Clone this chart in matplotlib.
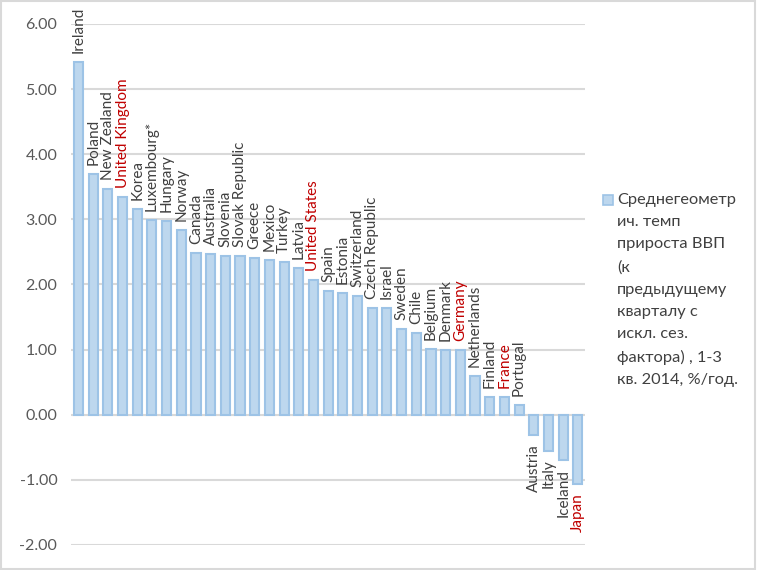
import matplotlib
matplotlib.use("Agg")
import matplotlib.pyplot as plt
from matplotlib.patches import Rectangle

countries = ["Ireland", "Poland", "New Zealand", "United Kingdom", "Korea", "Luxembourg*",
             "Hungary", "Norway", "Canada", "Australia", "Slovenia", "Slovak Republic",
             "Greece", "Mexico", "Turkey", "Latvia", "United States", "Spain", "Estonia",
             "Switzerland", "Czech Republic", "Israel", "Sweden", "Chile", "Belgium",
             "Denmark", "Germany", "Netherlands", "Finland", "France", "Portugal",
             "Austria", "Italy", "Iceland", "Japan"]
values = [5.41, 3.70, 3.47, 3.34, 3.16, 2.99, 2.97, 2.83, 2.49, 2.47, 2.44, 2.43,
          2.41, 2.37, 2.34, 2.26, 2.07, 1.90, 1.87, 1.83, 1.64, 1.64, 1.32, 1.26, 1.01,
          1.00, 0.99, 0.59, 0.27, 0.27, 0.15, -0.31, -0.55, -0.69, -1.07]
highlight = ["United Kingdom", "United States", "Germany", "France", "Japan"]
yticks = [-2, -1, 0, 1, 2, 3, 4, 5, 6]
legend_text = ("Среднегеометр\nич. темп\nприроста ВВП\n(к\nпредыдущему\nкварталу с\n"
               "искл. сез.\nфактора) , 1-3\nкв. 2014, %/год.")

plt.rcParams['font.family'] = ['Lato', 'DejaVu Sans']
TXT = '#404040'
RED = '#C00000'

fig = plt.figure(figsize=(7.57, 5.70), dpi=100)
ax = fig.add_axes([0.094, 0.0439, 0.679, 0.914])

x = list(range(len(countries)))
ax.bar(x, values, width=0.62, color='#BDD7EE', edgecolor='#9DC3E6', linewidth=1.5, zorder=3)

for xi, c, v in zip(x, countries, values):
    col = RED if c in highlight else TXT
    if v >= 0:
        ax.annotate(c, (xi, v), xytext=(0, 6.5), textcoords='offset points', rotation=90,
                    ha='center', va='bottom', fontsize=11, color=col, annotation_clip=False)
    else:
        ax.annotate(c, (xi, v), xytext=(0, -6.5), textcoords='offset points', rotation=90,
                    ha='center', va='top', fontsize=11, color=col, annotation_clip=False)

ax.set_xlim(-0.5, len(countries) - 0.5)
ax.set_ylim(-2, 6)
ax.set_yticks(yticks)
ax.set_yticklabels([f"{t:.2f}" for t in yticks], fontsize=11.5, color='#595959')
ax.set_xticks([])
ax.grid(axis='y', color='#D9D9D9', linewidth=1.5, zorder=0)
for s in ax.spines.values():
    s.set_visible(False)
ax.tick_params(axis='y', length=0, pad=10)

# legend
fig.patches.append(Rectangle((603 / 757, 1 - 205 / 570), 10 / 757, 10 / 570,
                             transform=fig.transFigure, facecolor='#BDD7EE',
                             edgecolor='#9DC3E6', linewidth=1.2))
fig.text(617 / 757, 1 - 193 / 570, legend_text, fontsize=11.8, color=TXT, va='top',
         ha='left', linespacing=1.75)

# outer border
fig.patches.append(Rectangle((0.001, 0.001), 0.997, 0.997, transform=fig.transFigure,
                             fill=False, edgecolor='#D9D9D9', linewidth=1.5))

fig.savefig("out.png", dpi=100)
